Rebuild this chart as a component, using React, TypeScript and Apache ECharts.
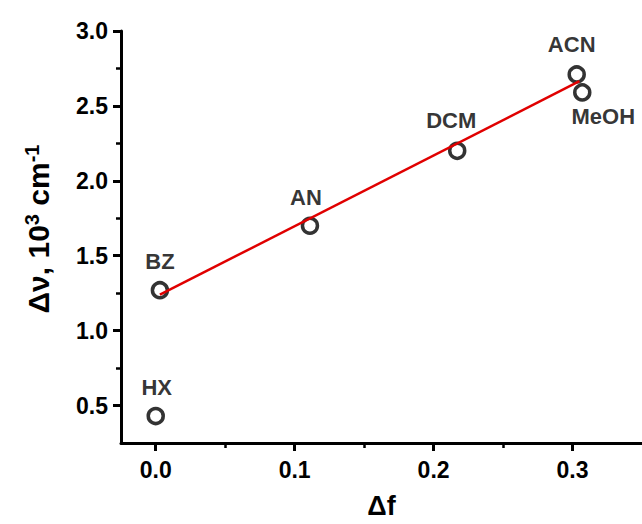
import React, { useEffect, useRef } from "react";
import * as echarts from "echarts";

// Solvent data: orientation polarizability Δf vs Stokes shift Δν (10^3 cm^-1)
const solvents = ["HX", "BZ", "AN", "DCM", "ACN", "MeOH"];
const deltaF = [0.0, 0.003, 0.111, 0.217, 0.303, 0.307];
const deltaNu = [0.43, 1.27, 1.70, 2.20, 2.71, 2.59];

// Linear fit drawn through BZ..MeOH
const fitX = [0.003, 0.305];
const fitY = [1.24, 2.665];

// Axis tick values
const xMajorTicks = [0.0, 0.1, 0.2, 0.3];
const xMinorTicks = [0.05, 0.15, 0.25];
const yMajorTicks = [0.5, 1.0, 1.5, 2.0, 2.5, 3.0];
const yMinorTicks = [0.75, 1.25, 1.75, 2.25, 2.75];

// Per-label placement around each marker
const labelPlacement: Record<string, { position: string; offset: number[] }> = {
  HX: { position: "top", offset: [1, 0] },
  BZ: { position: "top", offset: [0, 0] },
  AN: { position: "top", offset: [-4, 0] },
  DCM: { position: "top", offset: [-6, -2] },
  ACN: { position: "top", offset: [-5, -2] },
  MeOH: { position: "bottom", offset: [21, -4] },
};

const FONT = "'Liberation Sans', Arial, sans-serif";

export default function App() {
  const ref = useRef<HTMLDivElement>(null);

  useEffect(() => {
    if (!ref.current) return;
    const chart = echarts.init(ref.current, undefined, { renderer: "svg" });

    const axisLine = { show: true, onZero: false, lineStyle: { color: "#000", width: 3 } };
    const xBase = { type: "value", min: -0.025, max: 0.35, position: "bottom", splitLine: { show: false } };
    const yBase = { type: "value", min: 0.25, max: 3.0, position: "left", splitLine: { show: false } };

    chart.setOption({
      animation: false,
      backgroundColor: "#fff",
      grid: { left: 121, right: 0, top: 31, bottom: 75 },
      xAxis: [
        {
          ...xBase,
          axisLine,
          axisTick: { show: true, length: 8, lineStyle: { color: "#000", width: 3 }, customValues: xMajorTicks },
          axisLabel: {
            customValues: xMajorTicks,
            formatter: (v: number) => v.toFixed(1),
            color: "#000",
            fontFamily: FONT,
            fontWeight: "bold",
            fontSize: 23,
            margin: 15,
          },
          name: "Δf",
          nameLocation: "middle",
          nameGap: 49,
          nameTextStyle: { color: "#000", fontFamily: FONT, fontWeight: "bold", fontSize: 27 },
        },
        {
          ...xBase,
          axisLine: { show: false, onZero: false },
          axisTick: { show: true, length: 5, lineStyle: { color: "#000", width: 2.5 }, customValues: xMinorTicks },
          axisLabel: { show: false },
        },
      ],
      yAxis: [
        {
          ...yBase,
          axisLine,
          axisTick: { show: true, length: 8, lineStyle: { color: "#000", width: 3 }, customValues: yMajorTicks },
          axisLabel: {
            customValues: yMajorTicks,
            formatter: (v: number) => v.toFixed(1),
            color: "#000",
            fontFamily: FONT,
            fontWeight: "bold",
            fontSize: 23,
            margin: 13,
          },
          name: "{n|Δν, 10}{s|3}{n| cm}{s|-1}",
          nameLocation: "middle",
          nameRotate: 90,
          nameGap: 66,
          nameTextStyle: {
            padding: [0, 0, 0, 16],
            rich: {
              n: { fontFamily: FONT, fontWeight: "bold", fontSize: 30, lineHeight: 33, color: "#000" },
              s: { fontFamily: FONT, fontWeight: "bold", fontSize: 20, lineHeight: 19, verticalAlign: "top", color: "#000" },
            },
          },
        },
        {
          ...yBase,
          axisLine: { show: false, onZero: false },
          axisTick: { show: true, length: 5, lineStyle: { color: "#000", width: 2.5 }, customValues: yMinorTicks },
          axisLabel: { show: false },
        },
      ],
      series: [
        {
          type: "scatter",
          xAxisIndex: 0,
          yAxisIndex: 0,
          symbol: "circle",
          symbolSize: 15,
          itemStyle: { color: "rgba(0,0,0,0)", borderColor: "#000", borderWidth: 3.5 },
          z: 2,
          data: solvents.map((name, i) => ({
            name,
            value: [deltaF[i], deltaNu[i]],
            label: {
              show: true,
              formatter: name,
              position: labelPlacement[name].position,
              offset: labelPlacement[name].offset,
              distance: 8,
              color: "#000",
              fontFamily: FONT,
              fontWeight: "bold",
              fontSize: 22,
            },
          })),
        },
        {
          type: "line",
          xAxisIndex: 0,
          yAxisIndex: 0,
          symbol: "none",
          z: 3,
          lineStyle: { color: "#e00000", width: 2.5 },
          data: fitX.map((x, i) => [x, fitY[i]]),
        },
      ],
    });

    return () => chart.dispose();
  }, []);

  return (
    <div
      ref={ref}
      style={{ position: "fixed", left: 0, top: 0, width: 642, height: 524, background: "#fff" }}
    />
  );
}
